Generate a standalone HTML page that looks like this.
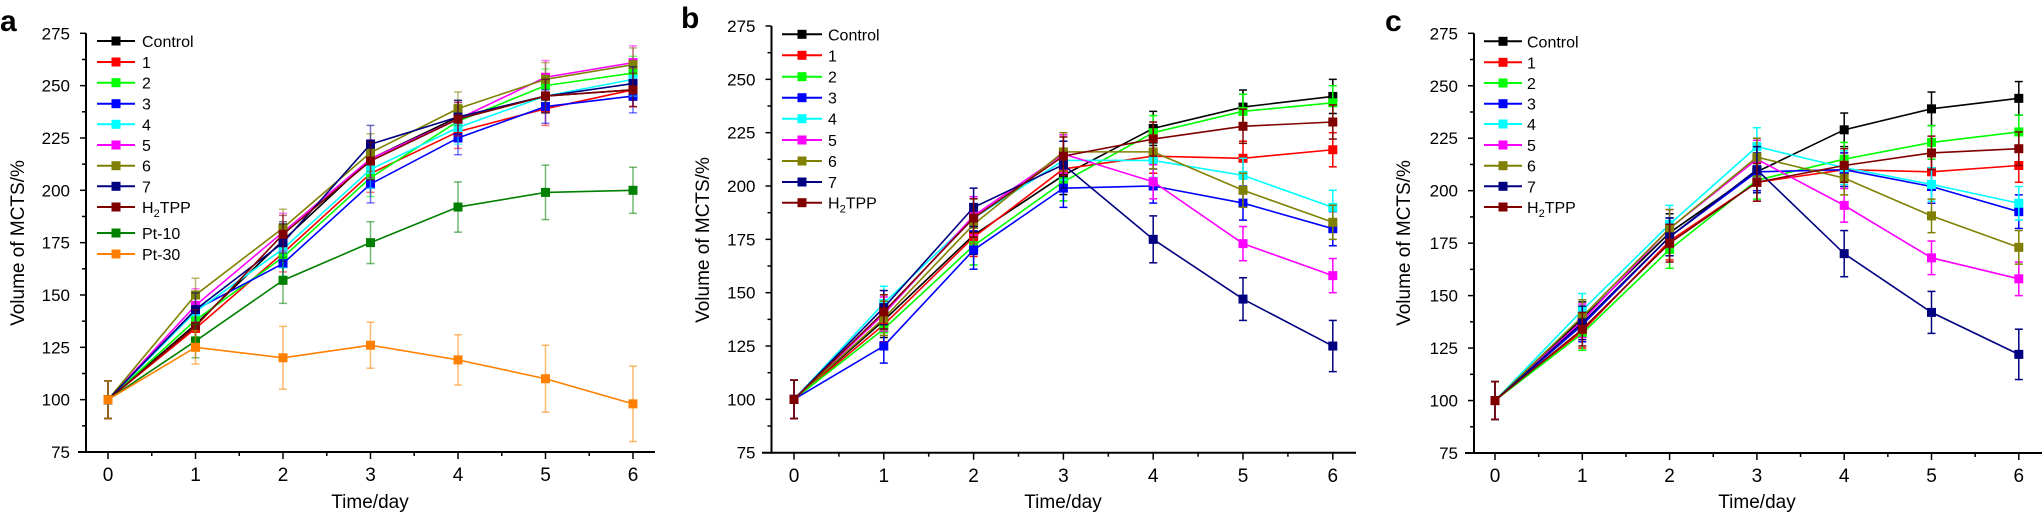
<!DOCTYPE html>
<html><head><meta charset="utf-8"><style>
html,body{margin:0;padding:0;background:#fff;}
svg{display:block;font-family:"Liberation Sans",sans-serif;}
.yl{font-size:17px;text-anchor:end;}
.xl{font-size:19px;text-anchor:middle;}
.lg{font-size:16px;}
.tt{font-size:19px;text-anchor:middle;}
.pl{font-size:30px;font-weight:bold;}
</style></head><body>
<svg id="s" width="2042" height="513" viewBox="0 0 2042 513" xmlns="http://www.w3.org/2000/svg">
<g id="geo"></g>
<!-- panel letters -->
<text class="pl" x="0" y="31">a</text>
<text class="pl" x="681" y="28">b</text>
<text class="pl" x="1385" y="31">c</text>
<!-- panel a labels -->
<g class="yl">
<text x="70" y="39.3">275</text><text x="70" y="91.6">250</text><text x="70" y="144">225</text><text x="70" y="196.3">200</text><text x="70" y="248.6">175</text><text x="70" y="301">150</text><text x="70" y="353.3">125</text><text x="70" y="405.7">100</text><text x="70" y="458">75</text>
<text x="755.5" y="32">275</text><text x="755.5" y="85.3">250</text><text x="755.5" y="138.7">225</text><text x="755.5" y="192">200</text><text x="755.5" y="245.4">175</text><text x="755.5" y="298.7">150</text><text x="755.5" y="352">125</text><text x="755.5" y="405.4">100</text><text x="755.5" y="458.7">75</text>
<text x="1458" y="39.3">275</text><text x="1458" y="91.8">250</text><text x="1458" y="144.2">225</text><text x="1458" y="196.7">200</text><text x="1458" y="249.1">175</text><text x="1458" y="301.6">150</text><text x="1458" y="354.1">125</text><text x="1458" y="406.5">100</text><text x="1458" y="459">75</text>
</g>
<g class="xl">
<text x="108" y="481">0</text><text x="195.5" y="481">1</text><text x="283" y="481">2</text><text x="370.5" y="481">3</text><text x="458" y="481">4</text><text x="545.5" y="481">5</text><text x="633" y="481">6</text>
<text x="794" y="482">0</text><text x="883.8" y="482">1</text><text x="973.6" y="482">2</text><text x="1063.4" y="482">3</text><text x="1153.2" y="482">4</text><text x="1243" y="482">5</text><text x="1332.8" y="482">6</text>
<text x="1495" y="482">0</text><text x="1582.3" y="482">1</text><text x="1669.6" y="482">2</text><text x="1756.9" y="482">3</text><text x="1844.2" y="482">4</text><text x="1931.5" y="482">5</text><text x="2018.8" y="482">6</text>
</g>
<g class="tt">
<text x="370" y="508">Time/day</text>
<text x="1063" y="508">Time/day</text>
<text x="1757" y="508">Time/day</text>
<text transform="translate(24,243) rotate(-90)">Volume of MCTS/%</text>
<text transform="translate(709,240) rotate(-90)">Volume of MCTS/%</text>
<text transform="translate(1410,243) rotate(-90)">Volume of MCTS/%</text>
</g>
<g class="lg">
<text x="142" y="47">Control</text><text x="142" y="68">1</text><text x="142" y="88.7">2</text><text x="142" y="109.7">3</text><text x="142" y="130.3">4</text><text x="142" y="151">5</text><text x="142" y="171.7">6</text><text x="142" y="192.3">7</text><text x="142" y="213">H<tspan font-size="11" dy="4">2</tspan><tspan dy="-4">TPP</tspan></text><text x="142" y="239">Pt-10</text><text x="142" y="260">Pt-30</text>
<text x="828" y="40.3">Control</text><text x="828" y="61.3">1</text><text x="828" y="82.7">2</text><text x="828" y="103.7">3</text><text x="828" y="124.7">4</text><text x="828" y="146">5</text><text x="828" y="167">6</text><text x="828" y="188">7</text><text x="828" y="208.7">H<tspan font-size="11" dy="4">2</tspan><tspan dy="-4">TPP</tspan></text>
<text x="1527" y="47.3">Control</text><text x="1527" y="68.3">1</text><text x="1527" y="89">2</text><text x="1527" y="109.7">3</text><text x="1527" y="130">4</text><text x="1527" y="151">5</text><text x="1527" y="171.7">6</text><text x="1527" y="192.3">7</text><text x="1527" y="213">H<tspan font-size="11" dy="4">2</tspan><tspan dy="-4">TPP</tspan></text>
</g>
</svg>
<script>
var C={Control:"#000000","1":"#ff0000","2":"#00ff00","3":"#0000ff","4":"#00ffff","5":"#ff00ff","6":"#808000","7":"#000080",H:"#800000",P10:"#008000",P30:"#ff8000"};
var order=["Control","1","2","3","4","5","6","7","H","P10","P30"];
var panels=[
{ax:86,x0:108,dx:87.5,yt:33.3,yb:452,xs:78,xe:655,lgx:[97,135],lgy:[41,62,82.7,103.7,124.3,145,165.7,186.3,207,233,254],op:0.55,
 d:{Control:[100,136,176,215,235,245,248],"1":[100,134,170,208,228,239,248],"2":[100,138,168,206,233,250,256],"3":[100,143,165,203,225,240,245],"4":[100,142,172,210,230,245,253],"5":[100,145,180,215,234,254,261],"6":[100,150,182,218,239,253,260],"7":[100,143,175,222,235,245,251],H:[100,135,179,214,234,245,248],P10:[100,128,157,175,192,199,200],P30:[100,125,120,126,119,110,98]},
 e:{P10:[9,8,11,10,12,13,11],P30:[9,8,15,11,12,16,18]}},
{ax:771.5,x0:794,dx:89.8,yt:26,yb:452.7,xs:762,xe:1356,lgx:[782,822],lgy:[34.3,55.3,76.7,97.7,118.7,140,161,182,202.7],op:1,
 d:{Control:[100,137,177,205,227,237,242],"1":[100,135,176,208,214,213,217],"2":[100,133,172,202,225,235,239],"3":[100,125,170,199,200,192,180],"4":[100,145,185,212,212,205,190],"5":[100,140,186,215,202,173,158],"6":[100,138,182,216,216,198,183],"7":[100,143,190,210,175,147,125],H:[100,141,185,214,222,228,230]},
 e:{"7":[9,8,9,11,11,10,12]}},
{ax:1474,x0:1495,dx:87.3,yt:33.3,yb:453,xs:1465,xe:2042,lgx:[1484,1522],lgy:[41.3,62.3,83,103.7,124,145,165.7,186.3,207],op:1,
 d:{Control:[100,139,180,209,229,239,244],"1":[100,133,176,204,210,209,212],"2":[100,132,172,205,215,223,228],"3":[100,136,178,209,210,202,190],"4":[100,143,184,221,211,203,194],"5":[100,138,182,215,193,168,158],"6":[100,140,182,216,206,188,173],"7":[100,137,178,210,170,142,122],H:[100,134,175,204,212,218,220]},
 e:{"7":[9,8,9,11,11,10,12]}}
];
var g=document.getElementById("geo"),h="";
function L(x1,y1,x2,y2,c,w,o){h+='<line x1="'+x1+'" y1="'+y1+'" x2="'+x2+'" y2="'+y2+'" stroke="'+c+'" stroke-width="'+w+'"'+(o!=null?' stroke-opacity="'+o+'"':'')+'/>';}
function R(x,y,c){h+='<rect x="'+(x-4.5)+'" y="'+(y-4.5)+'" width="9" height="9" fill="'+c+'"/>';}
panels.forEach(function(p){
 var sc=(p.yb-p.yt)/200;
 function Y(v){return p.yb-(v-75)*sc;}
 function X(i){return p.x0+i*p.dx;}
 // axes
 L(p.ax,p.yt,p.ax,p.yb+1,"#000",2);
 L(p.xs,p.yb,p.xe,p.yb,"#000",2);
 for(var k=0;k<=16;k++){var v=75+k*12.5;var y=Y(v);L(p.ax-(k%2?4:6),y,p.ax,y,"#000",1.5);}
 for(var k=0;k<=12;k++){var x=p.x0+k*p.dx/2;if(x>p.xe)continue;L(x,p.yb,x,p.yb+(k%2?4:7),"#000",1.5);}
 var keys=order.filter(function(k){return p.d[k];});
 keys.forEach(function(k){
  var d=p.d[k],c=C[k],pts=[];
  var ee=p.e[k]||[9,8,9,9,8,8,8];
  for(var i=0;i<7;i++){
   var x=X(i),e=ee[i];
   L(x,Y(d[i]-e),x,Y(d[i]+e),c,1.5,p.op);
   L(x-4,Y(d[i]-e),x+4,Y(d[i]-e),c,1.5,p.op);
   L(x-4,Y(d[i]+e),x+4,Y(d[i]+e),c,1.5,p.op);
   pts.push(x+","+Y(d[i]));
  }
  h+='<polyline points="'+pts.join(" ")+'" fill="none" stroke="'+c+'" stroke-width="1.6"/>';
  for(var i=0;i<7;i++)R(X(i),Y(d[i]),c);
 });
 keys.forEach(function(k,j){var y=p.lgy[j],c=C[k];L(p.lgx[0],y,p.lgx[1],y,c,2);R((p.lgx[0]+p.lgx[1])/2,y,c);});
});
g.innerHTML=h;
</script>
</body></html>
